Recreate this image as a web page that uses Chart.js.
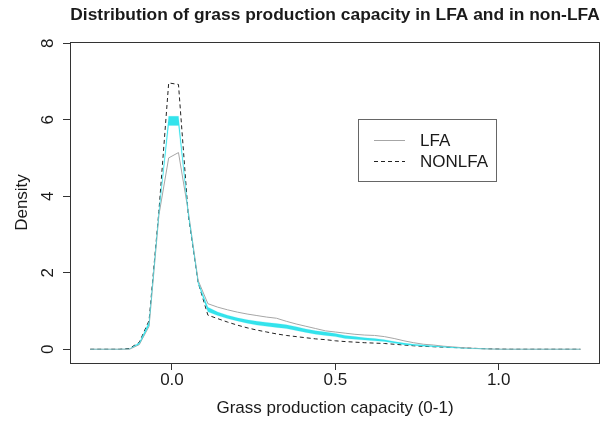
<!DOCTYPE html>
<html>
<head>
<meta charset="utf-8">
<script src="https://cdn.jsdelivr.net/npm/chart.js@4.4.0/dist/chart.umd.min.js"></script>
<style>
html, body { margin: 0; padding: 0; background: #fff; }
canvas { display: block; }
</style>
</head>
<body>
<canvas id="densityChart" width="602" height="423"></canvas>
<script>
// Evaluation points of the density (grass production capacity)
const xValues = [-0.25, -0.22, -0.19, -0.16, -0.13, -0.10, -0.07, -0.04, -0.01, 0.02,
    0.05, 0.08, 0.11, 0.14, 0.17, 0.20, 0.23, 0.26, 0.29, 0.32,
    0.35, 0.38, 0.41, 0.44, 0.47, 0.50, 0.53, 0.56, 0.59, 0.62,
    0.65, 0.68, 0.71, 0.74, 0.77, 0.80, 0.83, 0.86, 0.89, 0.92,
    0.95, 0.98, 1.01, 1.04, 1.07, 1.10, 1.13, 1.16, 1.19, 1.22, 1.25];

const lfaDensity = [0, 0, 0, 0, 0, 0.12, 0.6, 3.5, 5.0, 5.14,
    3.6, 1.8, 1.19, 1.1, 1.03, 0.97, 0.92, 0.88, 0.84, 0.81,
    0.73, 0.66, 0.6, 0.54, 0.48, 0.45, 0.42, 0.39, 0.37, 0.36,
    0.33, 0.28, 0.22, 0.17, 0.13, 0.11, 0.08, 0.06, 0.04, 0.025,
    0.012, 0.005, 0, 0, 0, 0, 0, 0, 0, 0, 0];

const nonLfaDensity = [0, 0, 0, 0, 0.02, 0.18, 0.75, 3.6, 6.96, 6.92,
    3.5, 1.75, 0.89, 0.8, 0.71, 0.63, 0.56, 0.5, 0.45, 0.4,
    0.36, 0.33, 0.3, 0.27, 0.25, 0.22, 0.2, 0.185, 0.17, 0.16,
    0.15, 0.13, 0.11, 0.09, 0.075, 0.065, 0.055, 0.045, 0.035, 0.025,
    0.015, 0.008, 0.003, 0, 0, 0, 0, 0, 0, 0, 0];

// cyan band (upper / lower edge)
const bandUpper = [0, 0, 0, 0, 0.01, 0.17, 0.72, 3.6, 6.09, 6.09,
    3.6, 1.77, 1.1, 0.97, 0.89, 0.82, 0.77, 0.73, 0.7, 0.67,
    0.64, 0.59, 0.53, 0.48, 0.45, 0.41, 0.36, 0.33, 0.3, 0.28,
    0.25, 0.2, 0.16, 0.13, 0.11, 0.09, 0.07, 0.05, 0.035, 0.02,
    0.01, 0.005, 0, 0, 0, 0, 0, 0, 0, 0, 0];

const bandLower = [0, 0, 0, 0, 0.01, 0.13, 0.62, 3.5, 5.85, 5.85,
    3.5, 1.72, 0.98, 0.88, 0.8, 0.74, 0.68, 0.63, 0.6, 0.57,
    0.54, 0.49, 0.44, 0.39, 0.36, 0.33, 0.28, 0.26, 0.24, 0.22,
    0.2, 0.16, 0.12, 0.1, 0.08, 0.065, 0.05, 0.035, 0.025, 0.015,
    0.008, 0.003, 0, 0, 0, 0, 0, 0, 0, 0, 0];

const xTicks = [0, 0.5, 1.0];
const yTicks = [0, 2, 4, 6, 8];

const titleText = 'Distribution of grass production capacity in LFA and in non-LFA';
const FONT = "'Liberation Sans', Arial, sans-serif";

const toPoints = (ys) => ys.map((y, i) => ({ x: xValues[i], y: y }));

// Box, title, rotated y labels and legend, drawn R style
const rDecor = {
    id: 'rDecor',
    afterDraw(chart) {
        const { ctx, chartArea: a, scales } = chart;
        const cx = (a.left + a.right) / 2;
        ctx.save();
        ctx.strokeStyle = '#333';
        ctx.lineWidth = 1;
        ctx.strokeRect(Math.round(a.left) + 0.5, Math.round(a.top) + 0.5,
            Math.round(a.right - a.left) - 1, Math.round(a.bottom - a.top));

        ctx.fillStyle = '#1a1a1a';
        ctx.textAlign = 'center';
        ctx.textBaseline = 'middle';
        ctx.font = '17px ' + FONT;
        yTicks.forEach((v) => {
            const y = scales.y.getPixelForValue(v);
            ctx.save();
            ctx.translate(48, y);
            ctx.rotate(-Math.PI / 2);
            ctx.fillText(String(v), 0, 0);
            ctx.restore();
        });

        ctx.font = 'bold 17.4px ' + FONT;
        ctx.fillText(titleText, cx, 15);

        ctx.font = '17px ' + FONT;
        ctx.fillText('Grass production capacity (0-1)', cx, 408);
        ctx.save();
        ctx.translate(22, (a.top + a.bottom) / 2);
        ctx.rotate(-Math.PI / 2);
        ctx.fillText('Density', 0, 0);
        ctx.restore();

        // legend
        ctx.strokeStyle = '#666';
        ctx.strokeRect(358.5, 119.5, 138, 62);
        ctx.strokeStyle = '#a6a6a6';
        ctx.beginPath();
        ctx.moveTo(374, 140.5);
        ctx.lineTo(405, 140.5);
        ctx.stroke();
        ctx.strokeStyle = '#222';
        ctx.setLineDash([4, 3]);
        ctx.beginPath();
        ctx.moveTo(374, 161.5);
        ctx.lineTo(405, 161.5);
        ctx.stroke();
        ctx.setLineDash([]);
        ctx.textAlign = 'left';
        ctx.fillText('LFA', 420, 141);
        ctx.fillText('NONLFA', 420, 162);
        ctx.restore();
    }
};

const ctx = document.getElementById('densityChart').getContext('2d');
const densityChart = new Chart(ctx, {
    type: 'line',
    data: {
        datasets: [
            {
                label: 'band lower',
                data: toPoints(bandLower),
                borderColor: 'rgba(51, 227, 236, 0.35)',
                borderWidth: 0.6,
                pointRadius: 0,
                fill: false,
            },
            {
                label: 'band upper',
                data: toPoints(bandUpper),
                borderColor: 'rgba(51, 227, 236, 0.35)',
                borderWidth: 0.6,
                backgroundColor: '#33e3ec',
                pointRadius: 0,
                fill: '-1',
            },
            {
                label: 'LFA',
                data: toPoints(lfaDensity),
                borderColor: '#a6a6a6',
                borderWidth: 1,
                pointRadius: 0,
                fill: false,
            },
            {
                label: 'NONLFA',
                data: toPoints(nonLfaDensity),
                borderColor: '#222',
                borderWidth: 1,
                borderDash: [4, 3],
                pointRadius: 0,
                fill: false,
            },
        ],
    },
    options: {
        responsive: false,
        animation: false,
        layout: { padding: { top: 42, right: 2, left: 0, bottom: 0 } },
        elements: { line: { tension: 0 } },
        scales: {
            x: {
                type: 'linear',
                min: -0.312,
                max: 1.31,
                afterFit: (scale) => { scale.height = 60; },
                afterBuildTicks: (scale) => { scale.ticks = xTicks.map(v => ({ value: v })); },
                border: { display: false },
                grid: { drawOnChartArea: false, drawTicks: true, tickLength: 7, color: '#333' },
                ticks: {
                    color: '#1a1a1a',
                    font: { family: FONT, size: 17 },
                    padding: 0,
                    callback: (v) => Number(v).toFixed(1),
                },
            },
            y: {
                type: 'linear',
                min: -0.36,
                max: 8.03,
                afterFit: (scale) => { scale.width = 70; },
                afterBuildTicks: (scale) => { scale.ticks = yTicks.map(v => ({ value: v })); },
                border: { display: false },
                grid: { drawOnChartArea: false, drawTicks: true, tickLength: 7, color: '#333' },
                ticks: { display: false },
            },
        },
        plugins: {
            legend: { display: false },
            tooltip: { enabled: false },
        },
    },
    plugins: [rDecor],
});
</script>
</body>
</html>
